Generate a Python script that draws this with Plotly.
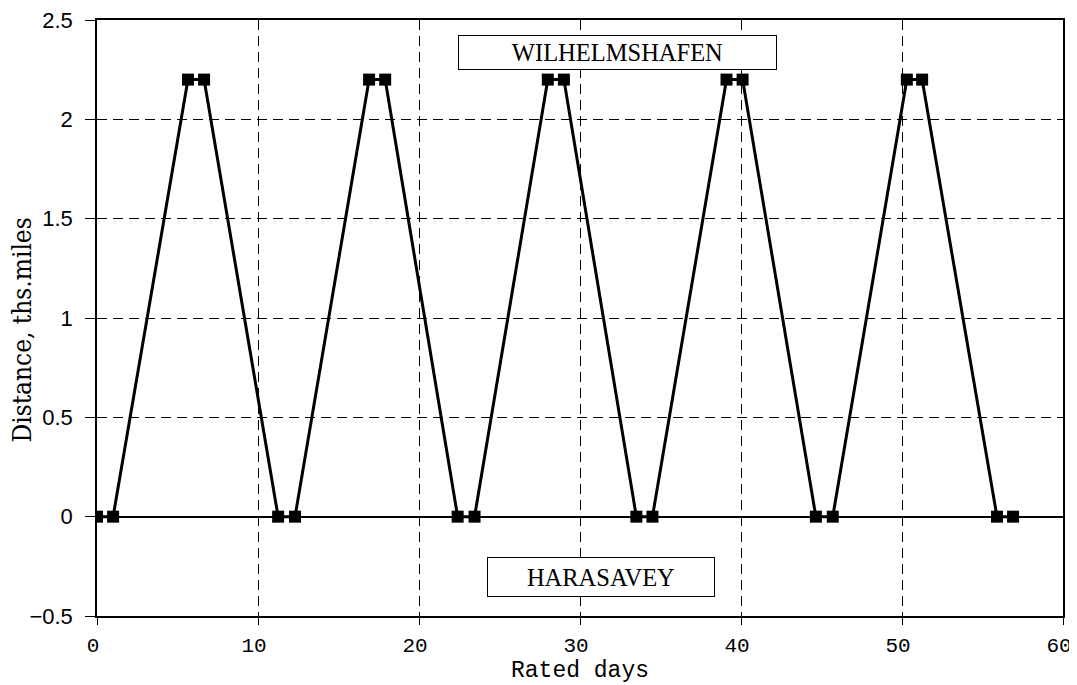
import plotly.graph_objects as go

days = [0, 1.0, 5.65, 6.65, 11.25, 12.3, 16.9, 17.9, 22.4, 23.45, 28.0, 29.0,
        33.5, 34.5, 39.1, 40.1, 44.65, 45.7, 50.3, 51.25, 55.9, 56.9]
distance = [0, 0, 2.2, 2.2, 0, 0, 2.2, 2.2, 0, 0, 2.2, 2.2,
            0, 0, 2.2, 2.2, 0, 0, 2.2, 2.2, 0, 0]
x_ticks = [0, 10, 20, 30, 40, 50, 60]
y_ticks = [-0.5, 0, 0.5, 1, 1.5, 2, 2.5]
y_tick_labels = ["\u22120.5", "0", "0.5", "1", "1.5", "2", "2.5"]
ports = ["WILHELMSHAFEN", "HARASAVEY"]
port_x = [32.33, 31.3]
port_y = [2.337, -0.302]
box_w = [313, 222]
box_h = [29, 34]

fig = go.Figure()
fig.add_trace(go.Scatter(
    x=days, y=distance, mode="lines+markers",
    line=dict(color="black", width=3),
    marker=dict(symbol="square", size=12, color="black"),
    showlegend=False,
))

for name, px, py, w, h in zip(ports, port_x, port_y, box_w, box_h):
    fig.add_annotation(
        x=px, y=py, text=name, showarrow=False,
        font=dict(family="Liberation Serif, Times New Roman, serif", size=24.5, color="black"),
        bordercolor="black", borderwidth=1, bgcolor="white",
        borderpad=2, width=w, height=h,
    )

# y-axis title placed as a rotated text so it can sit left of the tick labels
fig.add_annotation(
    xref="paper", yref="paper", x=-0.078, y=0.48, xanchor="center", yanchor="middle",
    text="Distance, ths.miles", textangle=-90, showarrow=False,
    font=dict(family="DejaVu Serif Condensed, Liberation Serif, serif", size=26, color="black"),
)

axis_common = dict(
    showline=True, linecolor="black", linewidth=1.5, mirror=True,
    ticks="outside", tickcolor="black", automargin=False,
    ticklabeloverflow="allow",
    showgrid=True, gridcolor="black", gridwidth=1, griddash="10px,6px",
)

fig.update_xaxes(
    range=[0, 60], tickvals=x_ticks, zeroline=False, ticklen=7,
    ticklabelshift=-4, ticklabelstandoff=2,
    tickfont=dict(family="Liberation Mono, Courier New, monospace", size=21, color="black"),
    title=dict(text="Rated days", standoff=2,
               font=dict(family="Liberation Mono, Courier New, monospace", size=23, color="black")),
    **axis_common,
)
fig.update_yaxes(
    range=[-0.5, 2.5], tickvals=y_ticks, ticktext=y_tick_labels,
    zeroline=True, zerolinecolor="black", zerolinewidth=1.5,
    ticklen=10, ticklabelstandoff=8,
    tickfont=dict(family="Liberation Sans, Arial, sans-serif", size=22, color="black"),
    **axis_common,
)

# page body adds ~8px offset; compensate so the plot area lands where the reference has it
fig.update_layout(
    width=1069, height=677,
    margin=dict(l=89, r=14, t=12, b=69),
    paper_bgcolor="white", plot_bgcolor="white",
)

fig.write_html("out.html")
